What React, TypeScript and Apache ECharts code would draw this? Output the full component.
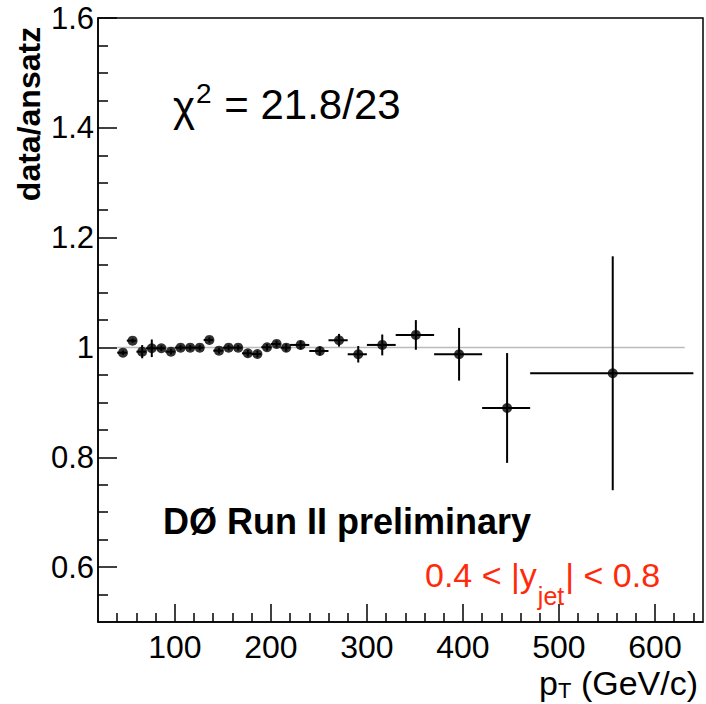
import React, { useEffect, useRef } from "react";
import * as echarts from "echarts";

// ---- data ----
const ptCenters = [46, 56, 66, 76, 86, 96, 106, 116, 126, 136, 146, 156, 166, 176, 186, 196, 206, 216, 231, 251, 271, 291, 316, 351, 396, 446, 556];
const binEdges = [40, 50, 60, 70, 80, 90, 100, 110, 120, 130, 140, 150, 160, 170, 180, 190, 200, 210, 220, 240, 260, 280, 300, 330, 370, 420, 470, 640];
const ratio = [0.9905, 1.0124, 0.9923, 0.9985, 0.9985, 0.9923, 0.9996, 0.9996, 0.9996, 1.0137, 0.9942, 0.9996, 0.9996, 0.9894, 0.988, 1.0004, 1.0064, 0.9996, 1.0046, 0.9936, 1.0131, 0.9876, 1.0046, 1.0228, 0.9876, 0.8898, 0.953];
const ratioErr = [0.004, 0.004, 0.012, 0.016, 0.005, 0.005, 0.005, 0.005, 0.005, 0.005, 0.005, 0.005, 0.005, 0.006, 0.006, 0.006, 0.006, 0.007, 0.008, 0.008, 0.0116, 0.015, 0.019, 0.027, 0.048, 0.1, 0.213];
const fitX = [40, 631];
const fitY = [1, 1];
const xMajorTicks = [100, 200, 300, 400, 500, 600];
const xMinorTicks = [40, 60, 80, 120, 140, 160, 180, 220, 240, 260, 280, 320, 340, 360, 380, 420, 440, 460, 480, 520, 540, 560, 580, 620, 640];
const yMajorTicks = [0.6, 0.8, 1.0, 1.2, 1.4, 1.6];
const yMinorTicks = [0.55, 0.65, 0.7, 0.75, 0.85, 0.9, 0.95, 1.05, 1.1, 1.15, 1.25, 1.3, 1.35, 1.45, 1.5, 1.55];
const xRange = [20, 650];
const yRange = [0.5, 1.6];

const FONT = '"Liberation Sans", Arial, Helvetica, sans-serif';

function measure(text: string, size: number, weight = "normal") {
  const c = document.createElement("canvas").getContext("2d");
  if (!c) return text.length * size * 0.55;
  c.font = `${weight} ${size}px ${FONT}`;
  return c.measureText(text).width;
}

export default function App() {
  const ref = useRef<HTMLDivElement>(null);
  useEffect(() => {
    if (!ref.current) return;
    const chart = echarts.init(ref.current, null, { renderer: "svg" });

    const errData = ptCenters.map((x, i) => [x, ratio[i], binEdges[i], binEdges[i + 1], ratioErr[i]]);
    const ptData = ptCenters.map((x, i) => [x, ratio[i]]);
    const fitData = fitX.map((x, i) => [x, fitY[i]]);

    const chiX = 173;
    const chiW = measure("χ", 42);
    const supW = measure("2", 28);
    const redMain1 = "0.4 < |y";
    const redSub = "jet";
    const redMain2 = "| < 0.8";
    const r1 = measure(redMain1, 34);
    const rs = measure(redSub, 25);
    const redX = 425;
    const pW = measure("p", 34);
    const tW = measure("T", 22);
    const restW = measure(" (GeV/c)", 34);
    const xtEnd = 698;
    const xtStart = xtEnd - (pW + tW + restW);

    const txt = (x: number, y: number, text: string, size: number, extra: any = {}) => ({
      type: "text",
      x,
      y,
      z: 100,
      style: {
        text,
        fontSize: size,
        fontFamily: FONT,
        fill: "#000",
        verticalAlign: "middle",
        align: "left",
        ...extra,
      },
    });

    chart.setOption({
      animation: false,
      grid: {
        left: 98,
        top: 18,
        width: 605,
        height: 604,
        show: true,
        borderColor: "#000",
        borderWidth: 1.5,
        backgroundColor: "transparent",
      },
      xAxis: [
        {
          type: "value",
          min: xRange[0],
          max: xRange[1],
          position: "bottom",
          axisLine: { show: true, onZero: false, lineStyle: { color: "#000", width: 1.5 } },
          splitLine: { show: false },
          axisTick: { show: true, inside: true, length: 18, customValues: xMajorTicks, lineStyle: { color: "#000", width: 1.5 } },
          axisLabel: { show: true, customValues: xMajorTicks, fontSize: 32, fontFamily: FONT, color: "#000", margin: 9 },
        },
        {
          type: "value",
          min: xRange[0],
          max: xRange[1],
          position: "bottom",
          axisLine: { show: false, onZero: false },
          splitLine: { show: false },
          axisTick: { show: true, inside: true, length: 9, customValues: xMinorTicks, lineStyle: { color: "#000", width: 1.5 } },
          axisLabel: { show: false },
        },
      ],
      yAxis: [
        {
          type: "value",
          min: yRange[0],
          max: yRange[1],
          position: "left",
          axisLine: { show: true, onZero: false, lineStyle: { color: "#000", width: 1.5 } },
          splitLine: { show: false },
          axisTick: { show: true, inside: true, length: 19, customValues: yMajorTicks, lineStyle: { color: "#000", width: 1.5 } },
          axisLabel: {
            show: true,
            customValues: yMajorTicks,
            fontSize: 31,
            fontFamily: FONT,
            color: "#000",
            margin: 4,
            formatter: (v: number) => String(Math.round(v * 10) / 10),
          },
        },
        {
          type: "value",
          min: yRange[0],
          max: yRange[1],
          position: "left",
          axisLine: { show: false, onZero: false },
          splitLine: { show: false },
          axisTick: { show: true, inside: true, length: 10, customValues: yMinorTicks, lineStyle: { color: "#000", width: 1.5 } },
          axisLabel: { show: false },
        },
      ],
      series: [
        {
          type: "line",
          data: fitData,
          symbol: "none",
          lineStyle: { color: "#bbbbbb", width: 1.5 },
          z: 1,
          silent: true,
        },
        {
          type: "custom",
          data: errData,
          z: 2,
          renderItem: (params: any, api: any) => {
            const x = api.value(0);
            const y = api.value(1);
            const lo = api.value(2);
            const hi = api.value(3);
            const e = api.value(4);
            const pL = api.coord([lo, y]);
            const pR = api.coord([hi, y]);
            const pT = api.coord([x, y + e]);
            const pB = api.coord([x, y - e]);
            const style = { stroke: "#000", lineWidth: 2 };
            return {
              type: "group",
              children: [
                { type: "line", shape: { x1: pL[0], y1: pL[1], x2: pR[0], y2: pR[1] }, style },
                { type: "line", shape: { x1: pT[0], y1: pT[1], x2: pB[0], y2: pB[1] }, style },
              ],
            };
          },
        },
        {
          type: "scatter",
          data: ptData,
          symbol: "circle",
          symbolSize: 10,
          itemStyle: { color: "#000" },
          z: 3,
        },
      ],
      graphic: [
        txt(chiX, 106, "χ", 42),
        txt(chiX + chiW + 1, 93, "2", 28),
        txt(chiX + chiW + supW + 2, 104, " = 21.8/23", 42),
        txt(163, 521, "DØ Run II preliminary", 36, { fontWeight: "bold" }),
        txt(redX, 575, redMain1, 34, { fill: "#ff2a0a" }),
        txt(redX + r1 + 1, 596, redSub, 25, { fill: "#ff2a0a" }),
        txt(redX + r1 + rs + 2, 575, redMain2, 34, { fill: "#ff2a0a" }),
        txt(xtStart, 683, "p", 34),
        txt(xtStart + pW, 690, "T", 22),
        txt(xtStart + pW + tW, 683, " (GeV/c)", 34),
        {
          type: "text",
          x: 29,
          y: 114,
          rotation: Math.PI / 2,
          z: 100,
          style: {
            text: "data/ansatz",
            fontSize: 32,
            fontWeight: "bold",
            fontFamily: FONT,
            fill: "#000",
            align: "center",
            verticalAlign: "middle",
          },
        },
      ],
    });
    return () => chart.dispose();
  }, []);
  return <div ref={ref} style={{ position: "fixed", left: 0, top: 0, width: 706, height: 704, background: "#fff" }} />;
}
